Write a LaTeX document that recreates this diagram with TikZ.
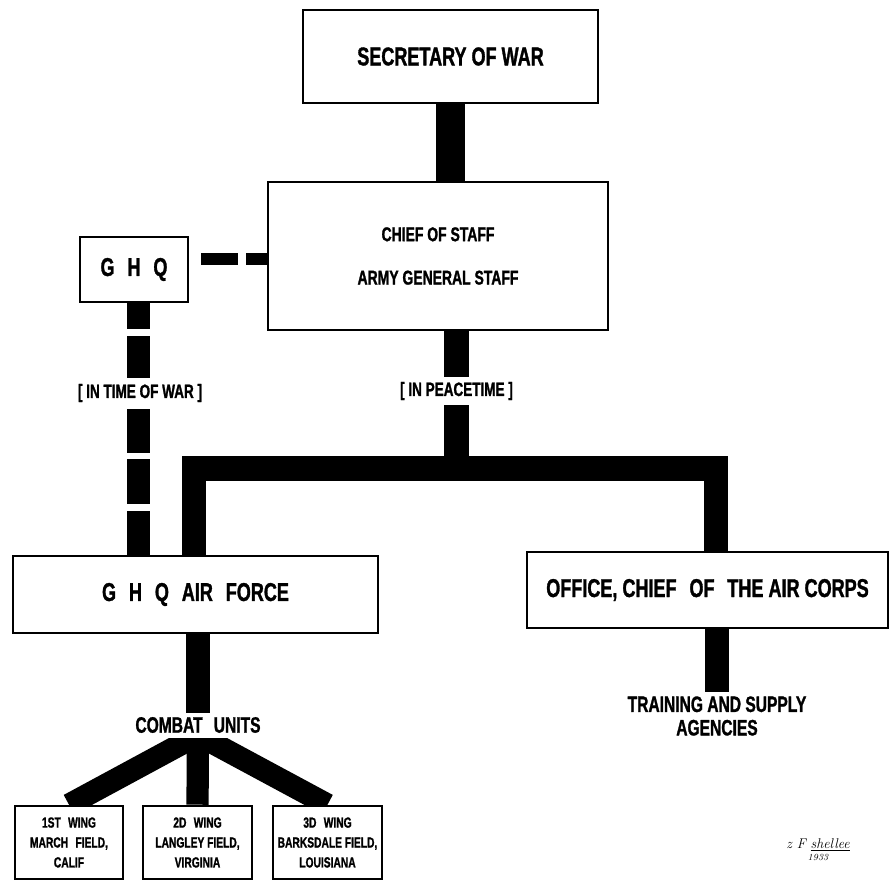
\documentclass[tikz,border=0pt]{standalone}
\usepackage{fontspec}
\newfontfamily\chartfont{Liberation Sans}[FakeStretch=0.7, BoldFeatures={FakeBold=1.2}]
\usepackage{tikz}
\usetikzlibrary{calc}
\tikzset{
  box/.style={draw, line width=2.2pt, inner sep=0pt, align=center},
  bigtxt/.style={font=\chartfont\bfseries\fontsize{22}{26}\selectfont},
  midtxt/.style={font=\chartfont\bfseries\fontsize{17}{20}\selectfont},
  lbl/.style={font=\chartfont\bfseries\fontsize{16.5}{19}\selectfont, inner sep=2pt},
  undertxt/.style={font=\chartfont\bfseries\fontsize{19}{20}\selectfont, align=center},
  wingtxt/.style={font=\chartfont\bfseries\fontsize{12.5}{17}\selectfont},
  heavybar/.style={line width=25pt},
  bar/.style={line width=21pt},
  fanbar/.style={line width=19pt},
  stafflink/.style={line width=10pt, dash pattern=on 0pt off 10.2pt on 31.6pt off 6.8pt on 20pt},
  warlink/.style={line width=19.6pt, dash pattern=on 22.2pt off 6pt on 35.9pt off 26.5pt on 37.6pt off 5.1pt on 37.6pt off 6.8pt on 39.3pt},
}

\begin{document}
\begin{tikzpicture}[x=0.03cm, y=-0.03cm]
  \useasboundingbox (0,0) rectangle (891,881);

  % boxes
  \node[box, bigtxt, minimum width=8.85cm, minimum height=2.79cm] (sec) at (450.5,56.5) {SECRETARY OF WAR};
  \node[box, midtxt, minimum width=10.2cm, minimum height=4.44cm] (chief) at (438,256) {CHIEF OF STAFF\\[17pt]ARMY GENERAL STAFF};
  \node[box, bigtxt, minimum width=3.24cm, minimum height=1.95cm] (ghq) at (134,269.5) {G\enspace H\enspace Q};
  \node[box, bigtxt, minimum width=10.95cm, minimum height=2.31cm] (gaf) at (195.5,594.5) {G\enspace H\enspace Q\enspace AIR\enspace FORCE};
  \node[box, bigtxt, minimum width=10.83cm, minimum height=2.28cm] (oca) at (707.5,590) {OFFICE, CHIEF\enspace OF\enspace THE AIR CORPS};

  % wings
  \node[box, wingtxt, minimum width=3.24cm, minimum height=2.19cm] (wing1) at (69,842.5) {1ST\enspace WING\\MARCH\enspace FIELD,\\CALIF};
  \node[box, wingtxt, minimum width=3.27cm, minimum height=2.19cm] (wing2) at (197.5,842.5) {2D\enspace WING\\LANGLEY FIELD,\\VIRGINIA};
  \node[box, wingtxt, minimum width=3.27cm, minimum height=2.19cm] (wing3) at (327.5,842.5) {3D\enspace WING\\BARKSDALE FIELD,\\LOUISIANA};

  % text below the boxes
  \node[undertxt] (combat) at (198,725) {COMBAT\enspace UNITS};
  \node[undertxt] (train) at (717,716) {TRAINING AND SUPPLY\\AGENCIES};

  % chain of command
  \coordinate (hub) at (456.5,468.5);
  \coordinate (lturn) at (194,468.5);
  \coordinate (rturn) at (716,468.5);
  \draw[heavybar] (sec.south) -- (sec.south |- chief.north);
  \draw[bar] (chief.south -| hub) -- (hub);
  \draw[bar, line join=miter] (gaf.north -| lturn) -- (lturn) -- (rturn) -- (oca.north -| rturn);
  \node[lbl, fill=white, minimum height=24pt] (peace) at (456.5,391) {[ IN PEACETIME ]};

  % war time
  \draw[stafflink] (ghq.east |- 0,259) -- (chief.west |- 0,259);
  \draw[warlink] (ghq.south -| 138.5,0) -- (gaf.north -| 138.5,0);
  \node[lbl] (war) at (140,393) {[ IN TIME OF WAR ]};

  % below
  \draw[bar] (gaf.south -| combat) -- (combat.north);
  \coordinate (fan) at (198,735);
  \begin{scope}
    \clip (0,738) rectangle (wing3.north -| 891,0);
    \draw[fanbar] (fan) -- (wing1.north);
    \draw[fanbar] (fan) -- (wing2.north);
    \draw[fanbar] (fan) -- (wing3.north);
  \end{scope}
  \draw[bar] (oca.south -| train) -- (train.north);

  % signature
  \node[font=\itshape\large, align=center] (sig) at (818,850) {z F \underline{shellee}\\[-4pt]{\footnotesize 1933}};
\end{tikzpicture}
\end{document}
